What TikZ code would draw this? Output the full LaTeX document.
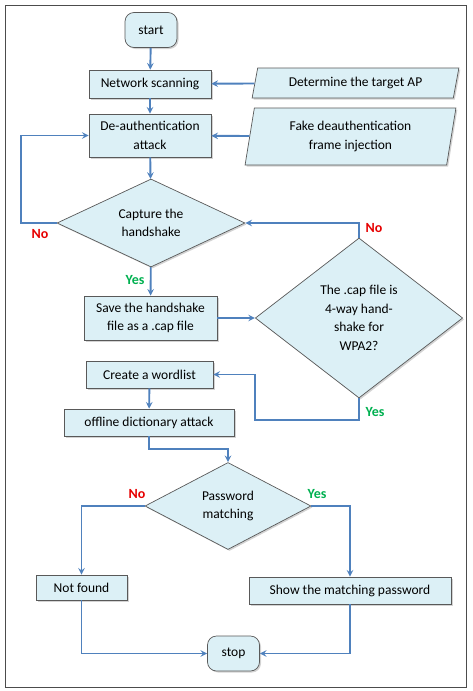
\documentclass[tikz,border=0pt]{standalone}
\usepackage{fontspec}
\setmainfont{Carlito}
\usetikzlibrary{shapes.geometric,shadows,positioning}
\definecolor{boxfill}{RGB}{220,240,246}
\definecolor{flowline}{RGB}{79,129,189}
\definecolor{noRed}{RGB}{230,0,0}
\definecolor{yesGreen}{RGB}{0,176,80}
\tikzset{
  base/.style={draw=black!65, fill=boxfill, line width=0.7pt, font=\fontsize{13.5}{18.5}\selectfont,
    drop shadow={shadow xshift=1.5pt, shadow yshift=-1.5pt, opacity=0.35}, align=center, inner sep=0pt},
  process/.style={base, rectangle, minimum width=#1, minimum height=28pt},
  terminal/.style={base, rectangle, rounded corners=9pt, minimum width=52pt, minimum height=35pt},
  decision/.style={base, diamond, aspect=2},
  inputbox/.style={base, trapezium, trapezium stretches=true, trapezium left angle=#1, trapezium right angle=180-#1},
  flow/.style={->, draw=flowline, line width=1.9pt},
  nolab/.style={text=noRed, font=\fontsize{14}{16}\selectfont\bfseries},
  yeslab/.style={text=yesGreen, font=\fontsize{14}{16}\selectfont\bfseries}
}
\begin{document}
\begin{tikzpicture}[x=1pt, y=-1pt, >=stealth]
  \useasboundingbox (0,0) rectangle (472,691);
  \draw[black!70, line width=0.8pt] (5,5) rectangle (466,687);

  % main column
  \node[terminal] (start) at (151,30) {start};
  \node[process=122pt] (scan) at (150,84) {Network scanning};
  \node[inputbox=72, minimum width=207pt, minimum height=30pt] (target) at (355.5,83) {Determine the target AP};
  \node[process=122pt, minimum height=43pt] (deauth) at (150,135.5) {De-authentication\\attack};
  \node[inputbox=79, minimum width=211pt, minimum height=57pt] (fake) at (350.5,136.5) {Fake deauthentication\\frame injection};
  \node[decision, minimum width=188pt, minimum height=88pt] (capture) at (151,223) {Capture the\\handshake};
  \node[process=133pt, minimum height=44pt] (save) at (150.5,318) {Save the handshake\\file as a .cap file};
  \node[decision, minimum width=194pt, minimum height=160pt] (wpa) at (359,318) {The .cap file is\\4-way hand-\\shake for\\WPA2?};
  \node[process=127pt, minimum height=27pt] (wordlist) at (149.5,374.5) {Create a wordlist};
  \node[process=170pt, minimum height=27pt] (offline) at (149,422.5) {offline dictionary attack};
  \node[decision, minimum width=166pt, minimum height=87pt] (match) at (228,506) {Password\\matching};
  \node[process=91pt, minimum height=25pt] (notfound) at (81.5,587.5) {Not found};
  \node[process=202pt, minimum height=27pt] (show) at (350,590.5) {Show the matching password};
  \node[terminal] (stop) at (233.5,653.5) {stop};

  % bend points
  \coordinate (noleft) at (21,223);
  \coordinate (yesturn) at (255,420);

  % connectors
  \draw[flow] (start) -- (scan);
  \draw[flow] (target) -- (scan);
  \draw[flow] (scan) -- (deauth);
  \draw[flow] (fake) -- (deauth);
  \draw[flow] (deauth) -- (capture);
  \draw[flow] (capture.west) -- (noleft) |- (deauth.west);
  \draw[flow] (wpa.north) |- (capture.east);
  \draw[flow] (capture) -- (save);
  \draw[flow] (save) -- (wpa);
  \draw[flow] (wpa.south) |- (yesturn) |- (wordlist.east);
  \draw[flow] (wordlist) -- (offline);
  \draw[flow] (offline.south) -- ++(0,13) -| (match.north);
  \draw[flow] (match.west) -| (notfound.north);
  \draw[flow] (match.east) -| (show.north);
  \draw[flow] (notfound.south) |- (stop.west);
  \draw[flow] (show.south) |- (stop.east);

  % branch labels
  \node[nolab] (no1) at (40,234) {No};
  \node[nolab] (no2) at (374,228) {No};
  \node[yeslab] (yes1) at (135,280) {Yes};
  \node[yeslab] (yes2) at (375,412) {Yes};
  \node[nolab] (no3) at (137,494) {No};
  \node[yeslab] (yes3) at (317,494) {Yes};
\end{tikzpicture}
\end{document}
